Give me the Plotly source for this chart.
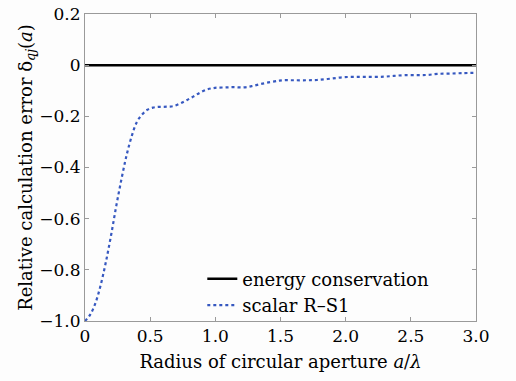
import plotly.graph_objects as go

x_rs = [0.0, 0.04, 0.08, 0.12, 0.16, 0.20, 0.24, 0.28, 0.32, 0.36, 0.40, 0.44, 0.48, 0.52, 0.56, 0.60, 0.64,
        0.68, 0.73, 0.78, 0.833, 0.88, 0.936, 0.98, 1.013, 1.08, 1.14, 1.218,
        1.28, 1.346, 1.423, 1.487, 1.526, 1.60, 1.70, 1.78, 1.88, 1.987, 2.10, 2.20, 2.295, 2.37, 2.45,
        2.55, 2.63, 2.705, 2.80, 2.90, 3.0]
y_rs = [-1.0, -0.975, -0.93, -0.86, -0.77, -0.665, -0.55, -0.445, -0.35, -0.275, -0.22, -0.192, -0.174, -0.166, -0.163, -0.163, -0.162,
        -0.160, -0.150, -0.137, -0.122, -0.108, -0.095, -0.09, -0.088, -0.087, -0.086, -0.087,
        -0.082, -0.074, -0.066, -0.061, -0.059, -0.059, -0.059, -0.058, -0.053, -0.047, -0.046, -0.046, -0.045, -0.042, -0.039,
        -0.039, -0.038, -0.034, -0.033, -0.031, -0.030]
x_ec = [0.0, 3.0]
y_ec = [0.0, 0.0]

x_ticks = [0, 0.5, 1.0, 1.5, 2.0, 2.5, 3.0]
x_ticktext = ["0", "0.5", "1.0", "1.5", "2.0", "2.5", "3.0"]
y_ticks = [0.2, 0, -0.2, -0.4, -0.6, -0.8, -1.0]
y_ticktext = ["0.2", "0", "\u22120.2", "\u22120.4", "\u22120.6", "\u22120.8", "\u22121.0"]

font_family = "DejaVu Serif"
fs_tick = 17
fs_title = 18

fig = go.Figure()
fig.add_trace(go.Scatter(x=x_ec, y=y_ec, mode="lines", name="energy conservation",
                         line=dict(color="black", width=2.5)))
fig.add_trace(go.Scatter(x=x_rs, y=y_rs, mode="lines", name="scalar R\u2013S1",
                         line=dict(color="#3658c0", width=2.2, dash="dot", shape="spline")))

axis_common = dict(showline=True, linecolor="#9a9a9a", linewidth=1, mirror="ticks",
                   ticks="inside", ticklen=4, tickcolor="#9a9a9a", showgrid=False, zeroline=False,
                   automargin=False,
                   tickfont=dict(family=font_family, size=fs_tick, color="black"))

fig.update_xaxes(range=[0, 3.0], tickvals=x_ticks, ticktext=x_ticktext,
                 title=dict(text="Radius of circular aperture <i>a</i>/<i>λ</i>",
                            font=dict(family=font_family, size=fs_title, color="black"), standoff=9),
                 **axis_common)
fig.update_yaxes(range=[-1.0, 0.2], tickvals=y_ticks, ticktext=y_ticktext,
                 title=dict(text="Relative calculation error δ<sub><i>qj</i></sub>(<i>a</i>)",
                            font=dict(family=font_family, size=fs_title, color="black"), standoff=2),
                 **axis_common)

fig.update_layout(
    width=516, height=381,
    margin=dict(l=85, r=40, t=14, b=60),
    paper_bgcolor="#fdfdfd", plot_bgcolor="#fdfdfd",
    font=dict(family=font_family, size=fs_title, color="black"),
    legend=dict(x=0.30, y=0.197, xanchor="left", yanchor="top", bgcolor="rgba(0,0,0,0)",
                font=dict(family=font_family, size=fs_title, color="black"), tracegroupgap=0,
                itemwidth=30),
    showlegend=True,
)

fig.write_html("out.html", config={"displayModeBar": False},
               post_script="document.body.style.margin='0px';")
